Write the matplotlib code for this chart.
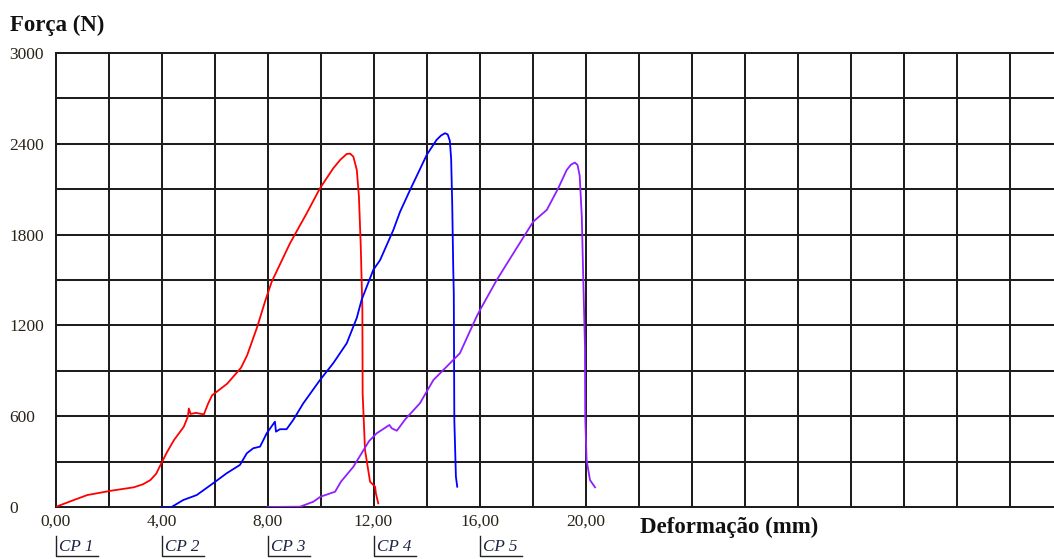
import matplotlib.pyplot as plt
import matplotlib.transforms as mtransforms
from matplotlib.lines import Line2D
import numpy as np

# force x deformation curves, deformation measured from each specimen's own start
cp1_def = [0, 0.3, 0.69, 1.2, 2.08, 2.95, 3.3, 3.58, 3.8, 3.96, 4.2, 4.47, 4.84, 5.0, 5.03,
           5.1, 5.3, 5.6, 5.75, 5.91, 6.48, 7.0, 7.23, 7.61, 7.92, 8.16, 8.85, 9.48, 9.98,
           10.48, 10.75, 10.99, 11.12, 11.24, 11.37, 11.45, 11.52, 11.58, 11.59, 11.68, 11.87,
           12.06, 12.09, 12.18]
cp1_force = [0, 20, 46, 79, 107, 130, 150, 178, 220, 277, 360, 442, 530, 600, 651,
             615, 622, 612, 680, 738, 815, 920, 1002, 1189, 1365, 1489, 1743, 1941, 2106,
             2238, 2295, 2333, 2335, 2315, 2227, 2051, 1720, 1302, 751, 377, 167,
             134, 90, 24]

cp2_def = [0, 0.38, 0.82, 1.33, 1.95, 2.46, 2.96, 3.22, 3.46, 3.72, 3.97, 4.28, 4.32, 4.47,
           4.72, 4.97, 5.35, 5.98, 6.48, 6.99, 7.37, 7.55, 7.99, 8.25, 8.75, 9.0, 9.38, 10.01,
           10.38, 10.55, 10.7, 10.8, 10.88, 10.93, 10.97, 11.01, 11.03, 11.05, 11.11, 11.16]
cp2_force = [0, 0, 46, 79, 157, 223, 278, 355, 388, 399, 487, 564, 498, 514,
             514, 575, 685, 839, 950, 1082, 1250, 1368, 1566, 1632, 1831, 1950, 2095, 2327,
             2426, 2455, 2470, 2462, 2420, 2300, 2007, 1566, 1412, 575, 200, 134]

cp3_def = [0, 1.23, 1.73, 2.0, 2.55, 2.77, 3.24, 3.83, 4.12, 4.6, 4.69, 4.88, 5.2, 5.75,
           6.26, 7.26, 7.89, 8.02, 8.65, 9.28, 10.03, 10.54, 10.97, 11.29, 11.45, 11.6, 11.7,
           11.78, 11.86, 11.92, 11.98, 11.99, 12.04, 12.17, 12.36]
cp3_force = [0, 2, 35, 68, 101, 167, 266, 435, 487, 542, 520, 504, 580, 685,
             839, 1016, 1258, 1302, 1500, 1677, 1886, 1963, 2106, 2227, 2262, 2276, 2260,
             2190, 1919, 1478, 1059, 597, 311, 178, 130]

cp_names = ['CP 1', 'CP 2', 'CP 3', 'CP 4', 'CP 5']
cp_offset = [0, 4, 8, 12, 16]
x_ticks = [0, 4, 8, 12, 16, 20]
y_ticks = [0, 600, 1200, 1800, 2400, 3000]

curves = [(cp1_def, cp1_force, '#ff0000'),
          (cp2_def, cp2_force, '#0000ff'),
          (cp3_def, cp3_force, '#8f1fff')]

W, H = 1054, 559
fig = plt.figure(figsize=(W / 100, H / 100), dpi=100)
ax = fig.add_axes([55.5 / W, (H - 507) / H, (W - 55.5) / W, 454 / H])

serif = ['Liberation Serif', 'DejaVu Serif']
txt_color = '#2a2418'
grid_kw = dict(color='#1e1e1e', lw=1.45, zorder=1)

for x in np.arange(2, 38, 2):
    ax.axvline(x, **grid_kw)
for y in np.arange(300, 3000, 300):
    ax.axhline(y, **grid_kw)

for (d, f, c), off in zip(curves, cp_offset):
    ax.plot(np.array(d) + off, f, color=c, lw=1.3, zorder=3)

ax.set_xlim(0, (W - 55.5) / 26.5)
ax.set_ylim(0, 3000)
for side in ['left', 'top', 'bottom']:
    ax.spines[side].set_color('#1e1e1e')
    ax.spines[side].set_linewidth(1.45)
ax.spines['right'].set_visible(False)

ax.set_xticks(x_ticks)
ax.set_xticklabels([f'{v:.2f}'.replace('.', ',') for v in x_ticks])
ax.set_yticks(y_ticks)
ax.set_yticklabels([str(v) for v in y_ticks])
ax.tick_params(axis='both', length=0, labelsize=12.5, labelcolor=txt_color)
ax.tick_params(axis='x', pad=5)
ax.tick_params(axis='y', pad=33)
for lab in ax.get_xticklabels() + ax.get_yticklabels():
    lab.set_family(serif)
for lab in ax.get_yticklabels():
    lab.set_ha('left')

fig.text(10 / W, 1 - 25 / H, 'Força (N)', family=serif, weight='bold',
         fontsize=16.5, color='#111111', va='center', ha='left')
fig.text(640 / W, 1 - 527 / H, 'Deformação (mm)', family=serif, weight='bold',
         fontsize=16.5, color='#111111', va='center', ha='left')

# specimen markers under the axis
trans = mtransforms.blended_transform_factory(ax.transData, fig.transFigure)
for name, off in zip(cp_names, cp_offset):
    y_top, y_bot = 1 - 536 / H, 1 - 556 / H
    fig.add_artist(Line2D([off, off, off + 1.6], [y_top, y_bot, y_bot],
                          transform=trans, color='#222222', lw=1.0))
    fig.text(off + 0.12, 1 - 547 / H, name, transform=trans, family=serif,
             style='italic', fontsize=12.3, color='#1c2440', va='center', ha='left')

fig.savefig('out.png', dpi=100)
